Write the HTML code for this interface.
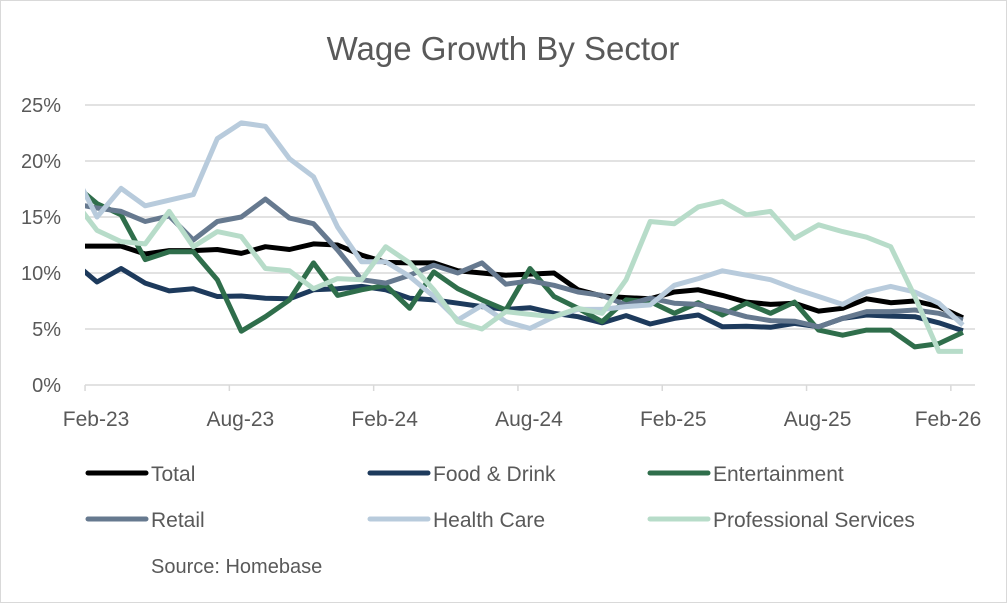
<!DOCTYPE html>
<html><head><meta charset="utf-8"><style>
html,body{margin:0;padding:0;background:#fff;}
body{width:1008px;height:604px;overflow:hidden;font-family:"Liberation Sans",sans-serif;}
</style></head><body>
<svg width="1008" height="604" viewBox="0 0 1008 604" xmlns="http://www.w3.org/2000/svg">
<rect x="0.5" y="0.5" width="1006" height="602" fill="#fff" stroke="#d9d9d9"/>
<text x="503" y="60" text-anchor="middle" font-size="33" fill="#595959">Wage Growth By Sector</text>
<g id="grid"></g>
<g id="ylab"></g>
<g id="xlab"></g>
<defs><clipPath id="pc"><rect x="85" y="90" width="895" height="300"/></clipPath></defs>
<g id="series" clip-path="url(#pc)"></g>
<g id="legend"></g>
<text x="151" y="573" font-size="20" fill="#595959">Source: Homebase</text>
</svg>
<script>
const yTicks=[0,5,10,15,20,25];
const xTickLabels=["Feb-23","Aug-23","Feb-24","Aug-24","Feb-25","Aug-25","Feb-26"];
const xTickMonths=[1,7,13,19,25,31,37];
const seriesNames=["Total","Food & Drink","Entertainment","Retail","Health Care","Professional Services"];
const seriesColors=["#000000","#1d3a5c","#2f6e4b","#66798f","#b8cbdc","#b7dcc9"];
const total=[12.4,12.4,12.4,11.7,12,12,12.1,11.75,12.35,12.1,12.6,12.5,11.6,10.95,10.9,10.9,10.2,10.0,9.8,9.9,10.0,8.5,7.95,7.8,7.7,8.3,8.5,8.0,7.4,7.2,7.3,6.6,6.85,7.7,7.35,7.5,7.0,6.0];
const foodDrink=[11.0,9.2,10.4,9.1,8.4,8.6,7.9,7.95,7.75,7.7,8.5,8.6,8.8,8.5,7.75,7.6,7.3,7.0,6.75,6.9,6.4,6.1,5.55,6.2,5.45,5.95,6.25,5.2,5.25,5.15,5.5,5.2,5.95,6.25,6.15,6.1,5.55,4.85];
const entertainment=[18.0,16.2,15.2,11.2,11.9,11.9,9.4,4.8,6.1,7.6,10.9,8.0,8.5,8.9,6.85,10.1,8.6,7.6,6.7,10.4,7.9,6.85,5.65,7.6,7.45,6.4,7.35,6.25,7.3,6.4,7.4,4.9,4.45,4.9,4.9,3.4,3.7,4.7];
const retail=[16.2,15.8,15.5,14.6,15.1,12.95,14.6,15.0,16.6,14.9,14.4,12.05,9.4,9.1,9.8,10.7,10.0,10.9,9.0,9.3,8.9,8.3,8.0,7.15,7.75,7.3,7.2,6.7,6.1,5.75,5.7,5.2,5.95,6.55,6.55,6.7,6.4,5.8];
const healthCare=[19.2,15.0,17.55,16.0,16.5,17.0,22.0,23.4,23.1,20.2,18.6,14.1,11.0,11.0,9.7,7.9,5.8,7.1,5.65,5.05,6.1,6.75,6.75,7.0,7.15,8.9,9.5,10.2,9.8,9.4,8.6,7.9,7.2,8.3,8.8,8.3,7.3,5.35];
const profServices=[16.6,13.8,12.8,12.6,15.5,12.35,13.7,13.25,10.4,10.2,8.6,9.5,9.4,12.35,10.9,8.5,5.65,5.0,6.55,6.3,6.1,6.85,6.4,9.4,14.6,14.4,15.9,16.4,15.2,15.5,13.1,14.3,13.7,13.2,12.35,7.9,3.0,3.0];
const allSeries=[total,foodDrink,entertainment,retail,healthCare,profServices];
const seriesKeys=["total","food-drink","entertainment","retail","health-care","professional-services"];
const NS="http://www.w3.org/2000/svg";
function yS(v){return 385-v*11.2;}
function xS(i){return 73+i*24.05;}
function mk(tag,attrs,parent){const e=document.createElementNS(NS,tag);for(const k in attrs)e.setAttribute(k,attrs[k]);parent.appendChild(e);return e;}
const grid=document.getElementById('grid'),ylab=document.getElementById('ylab'),xlab=document.getElementById('xlab');
yTicks.forEach(t=>{
  const l=mk('line',{x1:85,x2:975,y1:yS(t),y2:yS(t),stroke:'#d9d9d9','stroke-width':1.5},grid);
  
  
  const tx=mk('text',{x:61,y:yS(t)+7,'text-anchor':'end','font-size':20,fill:'#595959'},ylab);
  tx.textContent=t+'%';
  
  
});
xTickLabels.forEach((lab,i)=>{
  const x=xS(xTickMonths[i])-12;
  const tk=mk('line',{x1:x,x2:x,y1:385,y2:391,stroke:'#d9d9d9','stroke-width':1.5},grid);
  
  
  const cx=Math.min(x+11,948);
  const tx=mk('text',{x:cx,y:426,'text-anchor':'middle','font-size':21,fill:'#595959'},xlab);
  tx.textContent=lab;
  
  
});
const sg=document.getElementById('series');
allSeries.forEach((d,si)=>{
  const pts=d.map((v,i)=>xS(i).toFixed(1)+','+yS(v).toFixed(1)).join(' ');
  const p=mk('polyline',{points:pts,fill:'none',stroke:seriesColors[si],'stroke-width':5,'stroke-linejoin':'round'},sg);
  
  
});
const lg=document.getElementById('legend');
const lpos=[[88,473],[370,473],[650,473],[88,519],[370,519],[650,519]];
seriesNames.forEach((nm,si)=>{
  const [x,y]=lpos[si];
  const l=mk('line',{x1:x,x2:x+58,y1:y,y2:y,stroke:seriesColors[si],'stroke-width':5,'stroke-linecap':'round'},lg);
  
  
  const t=mk('text',{x:x+63,y:y+8,'font-size':21,fill:'#595959'},lg);
  t.textContent=nm;
  
  
});
</script>
</body></html>
